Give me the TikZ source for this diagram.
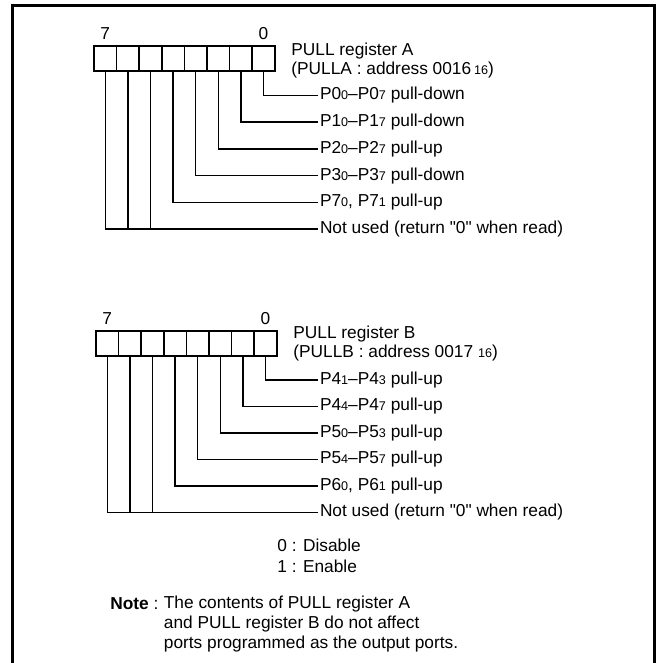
\documentclass[tikz,border=0pt]{standalone}
\usepackage{fontspec}
\setmainfont{Liberation Sans}
\usetikzlibrary{positioning}
\newcommand{\lo}[1]{{\fontsize{6.3}{7}\selectfont #1}}

\begin{document}
\begin{tikzpicture}[x=0.5pt, y=-0.5pt, font=\fontsize{8.65}{9.5}\selectfont,
        cell/.style={draw, line width=0.75pt, minimum width=11.3pt, minimum height=12.5pt, inner sep=0pt, outer sep=0pt},
        wire/.style={line width=0.75pt},
        lbl/.style={anchor=west, inner sep=1pt, outer sep=0pt},
        bitno/.style={inner sep=1pt}]
        \useasboundingbox (0,0) rectangle (658,663);
        \draw[line width=1.5pt] (12.5,663) |- (654,5.5) -- (654,663);

        \foreach \b in {0,...,7}
            \node[cell] (a\b) at ({105.3+22.6*(7-\b)}, 58.5) {};
        \node[bitno, above=2pt of a7] (a7n) {7};
        \node[bitno, above=2pt of a0] (a0n) {0};
        \node[anchor=west, align=left, inner sep=1pt] (tia) at (289, 61) {PULL register A\\(PULLA : address 0016\,\lo{16})};

        \node[lbl] (la0) at (318, 95.5)  {P0\lo{0}–P0\lo{7} pull-down};
        \node[lbl] (la1) at (318, 122.2) {P1\lo{0}–P1\lo{7} pull-down};
        \node[lbl] (la2) at (318, 148.9) {P2\lo{0}–P2\lo{7} pull-up};
        \node[lbl] (la3) at (318, 175.6) {P3\lo{0}–P3\lo{7} pull-down};
        \node[lbl] (la4) at (318, 202.3) {P7\lo{0}, P7\lo{1} pull-up};
        \node[lbl] (lan) at (318, 229)   {Not used (return \textquotedbl0\textquotedbl{} when read)};

        \foreach \b in {0,...,4}
            \draw[wire] (a\b.south) |- (la\b.west);
        \draw[wire] (a7.south) |- (lan.west);
        \draw[wire] (a6.south) -- (a6.south |- lan.west);
        \draw[wire] (a5.south) -- (a5.south |- lan.west);

        \foreach \b in {0,...,7}
            \node[cell] (b\b) at ({107.3+22.6*(7-\b)}, 343.5) {};
        \node[bitno, above=2pt of b7] (b7n) {7};
        \node[bitno, above=2pt of b0] (b0n) {0};
        \node[anchor=west, align=left, inner sep=1pt] (tib) at (291, 344) {PULL register B\\(PULLB : address 0017 \lo{16})};

        \node[lbl] (lb0) at (318, 380)   {P4\lo{1}–P4\lo{3} pull-up};
        \node[lbl] (lb1) at (318, 406.5) {P4\lo{4}–P4\lo{7} pull-up};
        \node[lbl] (lb2) at (318, 433)   {P5\lo{0}–P5\lo{3} pull-up};
        \node[lbl] (lb3) at (318, 459.5) {P5\lo{4}–P5\lo{7} pull-up};
        \node[lbl] (lb4) at (318, 486)   {P6\lo{0}, P6\lo{1} pull-up};
        \node[lbl] (lbn) at (318, 512.5) {Not used (return \textquotedbl0\textquotedbl{} when read)};

        \foreach \b in {0,...,4}
            \draw[wire] (b\b.south) |- (lb\b.west);
        \draw[wire] (b7.south) |- (lbn.west);
        \draw[wire] (b6.south) -- (b6.south |- lbn.west);
        \draw[wire] (b5.south) -- (b5.south |- lbn.west);

        \node[anchor=west, align=left, inner sep=1pt, font=\fontsize{8.65}{10.5}\selectfont] (key) at (275, 555.5) {0 : Disable\\1 : Enable};

        \node[anchor=west, inner sep=1pt] (note) at (108, 604) {\textbf{Note} :};
        \node[anchor=west, align=left, inner sep=1pt, font=\fontsize{8.65}{10}\selectfont] (notetx) at (161.5, 624) {The contents of PULL register A\\and PULL register B do not affect\\ports programmed as the output ports.};
    \end{tikzpicture}
\end{document}
